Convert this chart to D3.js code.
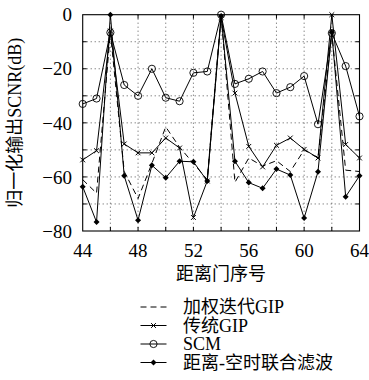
<!DOCTYPE html>
<html>
<head>
<meta charset="utf-8">
<script src="https://cdn.jsdelivr.net/npm/d3@7"></script>
<style>
  html, body { margin: 0; padding: 0; background: #fff; }
  svg { display: block; }
  .num { font-family: "Liberation Serif", "DejaVu Serif", serif; font-size: 19px; fill: #000; }
  .cjk { font-family: "Liberation Serif", "Noto Sans CJK SC", serif; font-size: 18px; fill: #000; }
  .leg { font-family: "Liberation Serif", "Noto Sans CJK SC", serif; font-size: 18px; fill: #000; }
</style>
</head>
<body>
<svg id="chart" width="369" height="380"></svg>
<script>
// range gate index 44..64
var gates = d3.range(44, 65);
var xTicks = [44, 48, 52, 56, 60, 64];
var yTicks = [-80, -60, -40, -20, 0];

// normalised output SCNR (dB)
var weightedGIP = [-61, -66, -6.5, -58, -68, -55, -41.5, -49, -55, -61, 0, -62, -53, -56, -54, -58, -50, -53, -6.8, -57.5, -58];
var classicGIP  = [-53.7, -50.3, -6, -47.8, -51.1, -51.1, -45.6, -49.3, -75, -61.5, -1, -29, -48.7, -56.3, -48.3, -45.6, -49.8, -53, 0, -48, -53];
var scm         = [-33, -31, -6.6, -26, -30, -20, -30.7, -32, -21.5, -21, 0, -25.6, -23.7, -21, -29, -26.8, -22.7, -40.5, -6.8, -19, -37.6];
var jointFilter = [-63.6, -76.7, 0, -59.6, -76, -55.7, -60.3, -54.2, -54.4, -61.5, -0.5, -54.2, -62.1, -64.2, -57.1, -59.3, -75.2, -58.1, -6.5, -67.3, -59.6];

var seriesNames = ["加权迭代GIP", "传统GIP", "SCM", "距离-空时联合滤波"];

var svg = d3.select("#chart");
var L = 82.7, R = 359.5, T = 14.7, B = 231;
var x = d3.scaleLinear().domain([44, 64]).range([L, R]);
var y = d3.scaleLinear().domain([-80, 0]).range([B, T]);

// dotted grid every 2 gates / 10 dB
var g = svg.append("g");
d3.range(46, 64, 2).forEach(function (v) {
  g.append("line").attr("x1", x(v)).attr("x2", x(v)).attr("y1", T).attr("y2", B)
    .attr("stroke", "#444").attr("stroke-width", 0.9).attr("stroke-dasharray", "1,3");
});
d3.range(-70, 0, 10).forEach(function (v) {
  g.append("line").attr("x1", L).attr("x2", R).attr("y1", y(v)).attr("y2", y(v))
    .attr("stroke", "#444").attr("stroke-width", 0.9).attr("stroke-dasharray", "1,3");
});

var line = d3.line().x(function (d, i) { return x(gates[i]); }).y(function (d) { return y(d); });

var series = [
  { data: weightedGIP, dash: "6,4", marker: null },
  { data: classicGIP, dash: null, marker: "x" },
  { data: scm, dash: null, marker: "o" },
  { data: jointFilter, dash: null, marker: "d" }
];

function drawMarker(sel, kind, cx, cy) {
  if (kind === "x") {
    var s = 2.4;
    sel.append("path").attr("d", "M" + (cx - s) + "," + (cy - s) + "L" + (cx + s) + "," + (cy + s) + "M" + (cx - s) + "," + (cy + s) + "L" + (cx + s) + "," + (cy - s))
      .attr("stroke", "#000").attr("stroke-width", 1);
  } else if (kind === "o") {
    sel.append("circle").attr("cx", cx).attr("cy", cy).attr("r", 3.6)
      .attr("fill", "none").attr("stroke", "#000").attr("stroke-width", 0.9);
  } else if (kind === "d") {
    var r = 3;
    sel.append("path").attr("d", "M" + cx + "," + (cy - r) + "L" + (cx + r) + "," + cy + "L" + cx + "," + (cy + r) + "L" + (cx - r) + "," + cy + "Z")
      .attr("fill", "#000");
  }
}

var plot = svg.append("g");
series.forEach(function (s) {
  plot.append("path").attr("d", line(s.data)).attr("fill", "none")
    .attr("stroke", "#000").attr("stroke-width", 1)
    .attr("stroke-dasharray", s.dash);
  if (s.marker) {
    s.data.forEach(function (v, i) { drawMarker(plot, s.marker, x(gates[i]), y(v)); });
  }
});

// frame + inward ticks on all sides
svg.append("rect").attr("x", L).attr("y", T).attr("width", R - L).attr("height", B - T)
  .attr("fill", "none").attr("stroke", "#000").attr("stroke-width", 1.1);
var tk = svg.append("g").attr("stroke", "#000").attr("stroke-width", 1);
d3.range(46, 64, 2).forEach(function (v) {
  tk.append("line").attr("x1", x(v)).attr("x2", x(v)).attr("y1", B).attr("y2", B - 4);
  tk.append("line").attr("x1", x(v)).attr("x2", x(v)).attr("y1", T).attr("y2", T + 4);
});
d3.range(-70, 0, 10).forEach(function (v) {
  tk.append("line").attr("x1", L).attr("x2", L + 4).attr("y1", y(v)).attr("y2", y(v));
  tk.append("line").attr("x1", R).attr("x2", R - 4).attr("y1", y(v)).attr("y2", y(v));
});

// tick labels
var fmt = d3.format("d");
svg.append("g").selectAll("text").data(yTicks).join("text")
  .attr("class", "num").attr("x", 72).attr("y", function (d) { return y(d); })
  .attr("dy", "0.35em").attr("text-anchor", "end").text(function (d) { return fmt(d); });
svg.append("g").selectAll("text").data(xTicks).join("text")
  .attr("class", "num").attr("x", function (d) { return x(d); }).attr("y", 257)
  .attr("text-anchor", "middle").text(function (d) { return fmt(d); });

// axis titles
svg.append("text").attr("class", "cjk").attr("text-anchor", "middle")
  .attr("transform", "translate(21," + ((T + B) / 2) + ") rotate(-90)").text("归一化输出SCNR(dB)");
svg.append("text").attr("class", "cjk").attr("x", (L + R) / 2).attr("y", 280)
  .attr("text-anchor", "middle").text("距离门序号");

// legend
var lg = svg.append("g");
var rowY = [307, 325.5, 344, 362.5];
series.forEach(function (s, i) {
  var yy = rowY[i];
  lg.append("line").attr("x1", 140.5).attr("x2", 166.5).attr("y1", yy).attr("y2", yy)
    .attr("stroke", "#000").attr("stroke-width", 1).attr("stroke-dasharray", s.dash);
  if (s.marker) drawMarker(lg, s.marker, 153.5, yy);
  lg.append("text").attr("class", "leg").attr("x", 183).attr("y", yy).attr("dy", "0.36em")
    .text(seriesNames[i]);
});
</script>
</body>
</html>
